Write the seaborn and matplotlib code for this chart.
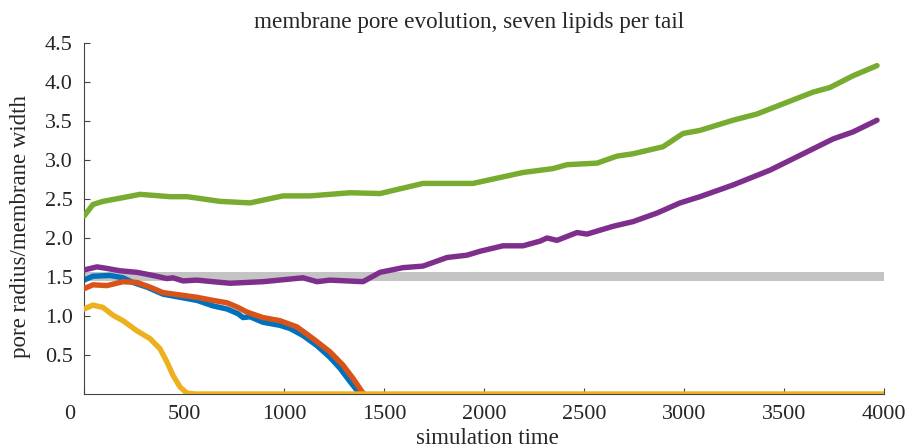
import matplotlib
matplotlib.use("Agg")
import matplotlib.pyplot as plt
import matplotlib.transforms as mtransforms
import seaborn as sns

# --- data ---
blue_t = [0, 45, 130, 195, 245, 315, 395, 480, 565, 645, 715, 770, 795, 830, 895,
          980, 1030, 1095, 1165, 1230, 1280, 1330, 1370, 1385]
blue_v = [1.46, 1.51, 1.52, 1.49, 1.43, 1.37, 1.28, 1.24, 1.20, 1.13, 1.09, 1.03, 0.98,
          0.99, 0.92, 0.88, 0.84, 0.75, 0.62, 0.47, 0.33, 0.16, 0.03, 0.0]

red_t = [0, 45, 115, 195, 265, 330, 395, 480, 565, 645, 715, 770, 815, 895, 980,
         1065, 1145, 1230, 1295, 1345, 1390, 1400]
red_v = [1.35, 1.40, 1.39, 1.44, 1.43, 1.37, 1.30, 1.27, 1.24, 1.20, 1.17, 1.11, 1.05,
         0.98, 0.94, 0.86, 0.71, 0.54, 0.37, 0.20, 0.03, 0.0]

yellow_t = [0, 45, 95, 145, 195, 265, 330, 380, 415, 445, 480, 515, 560, 4000]
yellow_v = [1.09, 1.14, 1.11, 1.01, 0.94, 0.81, 0.71, 0.58, 0.41, 0.24, 0.09, 0.01, 0.0, 0.0]

purple_t = [0, 65, 115, 180, 265, 345, 415, 445, 495, 565, 645, 730, 895, 1015, 1095,
            1165, 1230, 1315, 1395, 1445, 1480, 1595, 1695, 1815, 1915, 1980, 2095,
            2195, 2280, 2315, 2365, 2465, 2515, 2645, 2745, 2865, 2980, 3080, 3245,
            3430, 3580, 3745, 3845, 3965]
purple_v = [1.59, 1.63, 1.61, 1.58, 1.56, 1.52, 1.48, 1.49, 1.45, 1.46, 1.44, 1.42, 1.44,
            1.47, 1.49, 1.44, 1.46, 1.45, 1.44, 1.51, 1.56, 1.62, 1.64, 1.75, 1.78, 1.83,
            1.90, 1.90, 1.96, 2.00, 1.97, 2.07, 2.05, 2.15, 2.21, 2.32, 2.45, 2.53, 2.68,
            2.87, 3.06, 3.27, 3.36, 3.51]

green_t = [0, 45, 95, 200, 280, 430, 515, 680, 830, 995, 1130, 1330, 1480, 1695, 1945,
           2195, 2345, 2415, 2565, 2665, 2745, 2895, 2995, 3080, 3245, 3365, 3515, 3645,
           3730, 3845, 3965]
green_v = [2.28, 2.43, 2.47, 2.52, 2.56, 2.53, 2.53, 2.47, 2.45, 2.54, 2.54, 2.58, 2.57,
           2.70, 2.70, 2.84, 2.89, 2.94, 2.96, 3.05, 3.08, 3.17, 3.34, 3.38, 3.51, 3.59,
           3.74, 3.87, 3.93, 4.08, 4.21]

band_low, band_high = 1.45, 1.56

x_ticks = [0, 500, 1000, 1500, 2000, 2500, 3000, 3500, 4000]
y_ticks = [0.5, 1.0, 1.5, 2.0, 2.5, 3.0, 3.5, 4.0, 4.5]
y_tick_labels = ["0.5", "1.0", "1.5", "2.0", "2.5", "3.0", "3.5", "4.0", "4.5"]

sns.set_style("ticks")
plt.rcParams['font.family'] = ['Liberation Serif', 'DejaVu Serif']

fig = plt.figure(figsize=(9.08, 4.48), dpi=100)
ax = fig.add_axes([0.0925, 0.1205, 0.8811, 0.7835])

ax.axhspan(band_low, band_high, color='#c4c4c4', lw=0, zorder=1)

lw = 3.9
sns.lineplot(x=blue_t, y=blue_v, color='#0072BD', lw=lw, ax=ax, zorder=2)
sns.lineplot(x=red_t, y=red_v, color='#D95319', lw=lw, ax=ax, zorder=3)
sns.lineplot(x=yellow_t, y=yellow_v, color='#EDB120', lw=lw, ax=ax, zorder=4)
sns.lineplot(x=purple_t, y=purple_v, color='#7E2F8E', lw=lw, ax=ax, zorder=5)
sns.lineplot(x=green_t, y=green_v, color='#77AC30', lw=lw, ax=ax, zorder=6)

ax.set_xlim(0, 4000)
ax.set_ylim(0, 4.5)
ax.set_xticks(x_ticks)
ax.set_xticklabels([str(t) for t in x_ticks])
ax.set_yticks(y_ticks)
ax.set_yticklabels(y_tick_labels)
ax.tick_params(direction='in', length=4, width=0.8, color='#444444',
               labelsize=16, pad=8)
for side in ['top', 'right']:
    ax.spines[side].set_visible(False)
for side in ['left', 'bottom']:
    ax.spines[side].set_color('#444444')
    ax.spines[side].set_linewidth(0.8)
ax.set_xlabel('')
ax.set_ylabel('')

# the "0" on the x axis sits a bit left of its tick in the reference
zero_lbl = ax.get_xticklabels()[0]
zero_lbl.set_transform(zero_lbl.get_transform() +
                       mtransforms.ScaledTranslation(-0.14, 0, fig.dpi_scale_trans))

fig.text(469 / 908, 1 - 28 / 448, 'membrane pore evolution, seven lipids per tail',
         ha='center', va='baseline', fontsize=16.7)
fig.text(487 / 908, 4 / 448, 'simulation time', ha='center', va='baseline', fontsize=16.5)
fig.text(21 / 908, 1 - 226 / 448, 'pore radius/membrane width', rotation=90,
         ha='center', va='center', fontsize=16.5)

fig.savefig('out.png', dpi=100)
